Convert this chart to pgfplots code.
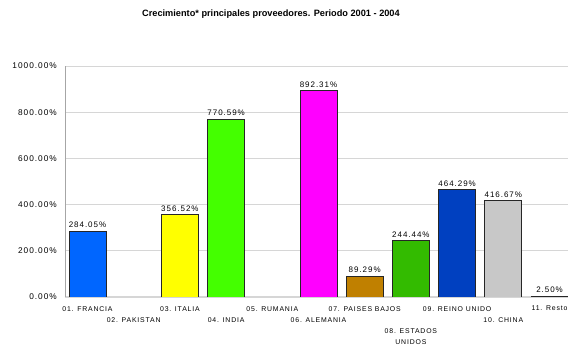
\documentclass[border=0pt]{standalone}
\usepackage{pgfplots}
\pgfplotsset{compat=1.18}
\usepackage{fontspec}
\setmainfont{Liberation Sans}
\newfontfamily\cf[LetterSpace=12]{Liberation Sans}
\definecolor{cFR}{HTML}{0066FF}
\definecolor{cIT}{HTML}{FFFF00}
\definecolor{cIN}{HTML}{44FF00}
\definecolor{cAL}{HTML}{FF00FF}
\definecolor{cPB}{HTML}{C08000}
\definecolor{cEU}{HTML}{33BB00}
\definecolor{cRU}{HTML}{0040C0}
\definecolor{cCH}{HTML}{C8C8C8}
\definecolor{cRE}{HTML}{000000}
\definecolor{gridc}{HTML}{D6D6D6}
\begin{document}
\begin{tikzpicture}
\path[use as bounding box] (-65pt,-48pt) rectangle (503pt,297pt);
\begin{axis}[
  at={(0,0)}, anchor=south west,
  scale only axis, width=503pt, height=231pt,
  ybar, bar width=37pt, bar shift=0pt,
  xmin=-0.487, xmax=10.4, ymin=0, ymax=1000,
  ytick={0,200,400,600,800,1000},
  xtick={0,1,2,3,4,5,6,7,8,9,10},
  xticklabels={
    {01. FRANCIA},
    {\rule{0pt}{5pt}\\02. PAKISTAN},
    {03. ITALIA},
    {\rule{0pt}{5pt}\\04. INDIA},
    {05. RUMANIA},
    {\rule{0pt}{5pt}\\06. ALEMANIA},
    {07. PAISES BAJOS},
    {\rule{0pt}{5pt}\\\mbox{}\\08. ESTADOS\\UNIDOS},
    {09. REINO UNIDO},
    {\rule{0pt}{5pt}\\10. CHINA},
    {11. Resto}},
  xticklabel style={anchor=north, align=center, inner sep=0pt, yshift=-9pt,
    font=\cf\fontsize{6.9}{11}\selectfont},
  /pgf/number format/assume math mode=true,
  /pgf/number format/1000 sep={},
  yticklabel={\pgfmathprintnumber[fixed,fixed zerofill,precision=2]{\tick}\%},
  yticklabel style={anchor=east, inner sep=0pt, xshift=-8pt, font=\cf\fontsize{8.3}{10}\selectfont},
  major tick length=0pt,
  ymajorgrids, grid style={gridc, line width=0.8pt},
  axis x line=bottom, axis y line=left,
  x axis line style={-, gridc, line width=2.5pt},
  y axis line style={-, black!35, line width=0.8pt},
  clip=true,
  title={Crecimiento* principales proveedores. Periodo 2001 - 2004},
  title style={at={(0.4095,1)}, anchor=center, yshift=46pt, font=\bfseries\fontsize{9.2}{11}\selectfont},
  nodes near coords={\pgfmathprintnumber[fixed,fixed zerofill,precision=2]{\pgfplotspointmeta}\%},
  nodes near coords style={font=\cf\fontsize{8}{10}\selectfont, anchor=south, inner sep=0pt, yshift=3pt},
  every axis plot/.append style={draw=black!85, line width=0.8pt},
]
\addplot[fill=cFR] coordinates {(0,284.05)};
\addplot[fill=cIT] coordinates {(2,356.52)};
\addplot[fill=cIN] coordinates {(3,770.59)};
\addplot[fill=cAL] coordinates {(5,892.31)};
\addplot[fill=cPB] coordinates {(6,89.29)};
\addplot[fill=cEU] coordinates {(7,244.44)};
\addplot[fill=cRU] coordinates {(8,464.29)};
\addplot[fill=cCH] coordinates {(9,416.67)};
\addplot[fill=cRE] coordinates {(10,2.50)};
\end{axis}
\end{tikzpicture}
\end{document}
